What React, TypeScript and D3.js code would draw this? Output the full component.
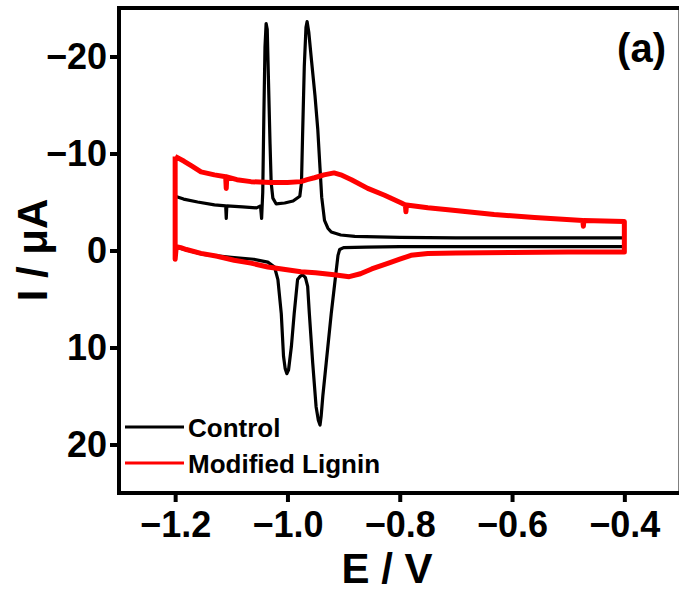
import { useEffect, useRef } from 'react';
import * as d3 from 'd3';

const xTicks = [-1.2, -1.0, -0.8, -0.6, -0.4];
const yTicks = [-20, -10, 0, 10, 20];

// [E (V), I (µA)]; scan -1.2 -> -0.4 then back
const controlForward: [number, number][] = [
  [-1.2, -5.6], [-1.185, -5.3], [-1.16, -5.0], [-1.13, -4.7], [-1.11, -4.6],
  [-1.109, -3.3], [-1.108, -4.6], [-1.08, -4.5], [-1.055, -4.4], [-1.048, -4.6],
  [-1.046, -3.3], [-1.044, -6.0], [-1.042, -14.0], [-1.04, -21.0], [-1.038, -23.4],
  [-1.036, -22.8], [-1.034, -18.0], [-1.031, -11.0], [-1.029, -7.0], [-1.026, -5.4],
  [-1.02, -4.8], [-1.005, -4.9], [-0.99, -5.1], [-0.978, -5.6], [-0.975, -7.0],
  [-0.973, -12.0], [-0.97, -19.0], [-0.967, -23.0], [-0.965, -23.6], [-0.962, -22.5],
  [-0.957, -19.5], [-0.951, -16.0], [-0.946, -12.5], [-0.942, -8.5], [-0.939, -5.5],
  [-0.934, -3.1], [-0.928, -2.3], [-0.922, -1.9], [-0.905, -1.6], [-0.88, -1.45],
  [-0.8, -1.35], [-0.7, -1.3], [-0.6, -1.3], [-0.5, -1.3], [-0.4, -1.3],
];

const controlReverse: [number, number][] = [
  [-0.4, -0.4], [-0.5, -0.4], [-0.6, -0.4], [-0.7, -0.4], [-0.8, -0.4],
  [-0.86, -0.35], [-0.9, -0.3], [-0.907, -0.1], [-0.91, 0.5], [-0.913, 2.0],
  [-0.917, 4.0], [-0.922, 6.5], [-0.931, 11.6], [-0.937, 15.0], [-0.94, 17.1],
  [-0.942, 18.0], [-0.945, 17.5], [-0.949, 16.1], [-0.955, 11.6], [-0.961, 6.5],
  [-0.964, 3.7], [-0.968, 2.8], [-0.973, 2.5], [-0.978, 2.7], [-0.982, 3.0],
  [-0.988, 6.5], [-0.993, 9.9], [-0.998, 12.3], [-1.001, 12.7], [-1.004, 12.2],
  [-1.007, 10.9], [-1.011, 6.5], [-1.017, 3.0], [-1.023, 1.7], [-1.035, 1.2],
  [-1.06, 0.9], [-1.1, 0.7], [-1.15, 0.4], [-1.19, -0.2], [-1.198, -0.3], [-1.2, 0.8],
];

const ligninForward: [number, number][] = [
  [-1.2, -9.7], [-1.184, -9.2], [-1.17, -8.7], [-1.154, -8.1], [-1.13, -7.8],
  [-1.11, -7.6], [-1.109, -6.4], [-1.108, -7.6], [-1.09, -7.3], [-1.065, -7.1],
  [-1.03, -7.0], [-1.0, -7.0], [-0.976, -7.1], [-0.965, -7.3], [-0.952, -7.5],
  [-0.935, -7.8], [-0.917, -8.0], [-0.905, -7.8], [-0.886, -7.3], [-0.857, -6.4],
  [-0.827, -5.7], [-0.797, -4.9], [-0.79, -4.7], [-0.789, -4.0], [-0.788, -4.7],
  [-0.75, -4.4], [-0.714, -4.2], [-0.632, -3.7], [-0.56, -3.4], [-0.474, -3.1],
  [-0.473, -2.5], [-0.472, -3.1], [-0.4, -3.0],
];

const ligninReverse: [number, number][] = [
  [-0.4, 0.15], [-0.5, 0.15], [-0.6, 0.2], [-0.7, 0.25], [-0.75, 0.3],
  [-0.78, 0.5], [-0.8, 0.9], [-0.82, 1.3], [-0.85, 1.9], [-0.87, 2.4],
  [-0.89, 2.7], [-0.917, 2.5], [-0.95, 2.3], [-0.976, 2.2], [-1.035, 1.7],
  [-1.065, 1.3], [-1.095, 1.0], [-1.125, 0.6], [-1.154, 0.3], [-1.18, -0.1],
  [-1.19, -0.3], [-1.198, -0.4], [-1.2, 0.9],
];

const seriesNames = ['Control', 'Modified Lignin'];
const seriesColors = ['#000000', '#ff0000'];

const W = 679;
const H = 591;
const FONT = '"Liberation Sans", Arial, Helvetica, sans-serif';

export default function App() {
  const svgRef = useRef<SVGSVGElement | null>(null);

  useEffect(() => {
    if (!svgRef.current) return;
    const svg = d3.select(svgRef.current);
    svg.selectAll('*').remove();

    const x = d3.scaleLinear().domain([-1.3, -0.3]).range([119, 680.5]);
    const y = d3.scaleLinear().domain([-25, 25]).range([8, 493]);

    const line = d3.line<[number, number]>()
      .x(d => x(d[0]))
      .y(d => y(d[1]));

    const loops = [
      [...controlForward, ...controlReverse, controlForward[0]],
      [...ligninForward, ...ligninReverse, ligninForward[0]],
    ];
    const widths = [3.2, 5];

    const plot = svg.append('g');
    loops.forEach((pts, i) => {
      plot.append('path')
        .datum(pts)
        .attr('d', line)
        .attr('fill', 'none')
        .attr('stroke', seriesColors[i])
        .attr('stroke-width', widths[i])
        .attr('stroke-linejoin', 'round');
    });

    // frame
    svg.append('rect')
      .attr('x', x(-1.3))
      .attr('y', y(-25))
      .attr('width', x(-0.3) - x(-1.3))
      .attr('height', y(25) - y(-25))
      .attr('fill', 'none')
      .attr('stroke', '#000')
      .attr('stroke-width', 4);

    // axes
    const xAxis = svg.append('g')
      .attr('transform', `translate(0,${y(25) + 2})`)
      .call(d3.axisBottom(x).tickValues(xTicks).tickFormat(d3.format('.1f')).tickSize(7).tickPadding(9));
    const yAxis = svg.append('g')
      .attr('transform', `translate(${x(-1.3) - 2},0)`)
      .call(d3.axisLeft(y).tickValues(yTicks).tickFormat(d3.format('d')).tickSize(7).tickPadding(3));

    [xAxis, yAxis].forEach(ax => {
      ax.select('.domain').remove();
      ax.selectAll('.tick line').attr('stroke', '#000').attr('stroke-width', 4);
      ax.selectAll('.tick text')
        .attr('fill', '#000')
        .style('font-family', FONT)
        .style('font-weight', 'bold')
        .style('font-size', '36px');
    });

    // axis titles
    svg.append('text')
      .attr('x', 387)
      .attr('y', 583)
      .attr('text-anchor', 'middle')
      .style('font-family', FONT)
      .style('font-weight', 'bold')
      .style('font-size', '42px')
      .text('E / V');

    svg.append('text')
      .attr('transform', 'translate(47,250) rotate(-90)')
      .attr('text-anchor', 'middle')
      .style('font-family', FONT)
      .style('font-weight', 'bold')
      .style('font-size', '42px')
      .text('I / μA');

    // panel label
    svg.append('text')
      .attr('x', 666)
      .attr('y', 62)
      .attr('text-anchor', 'end')
      .style('font-family', FONT)
      .style('font-weight', 'bold')
      .style('font-size', '40px')
      .text('(a)');

    // legend
    const legend = svg.append('g');
    seriesNames.forEach((name, i) => {
      const ly = 427 + i * 36;
      legend.append('line')
        .attr('x1', 125).attr('x2', 184)
        .attr('y1', ly).attr('y2', ly)
        .attr('stroke', seriesColors[i])
        .attr('stroke-width', 3);
      legend.append('text')
        .attr('x', 188)
        .attr('y', ly + 10)
        .style('font-family', FONT)
        .style('font-weight', 'bold')
        .style('font-size', '26px')
        .text(name);
    });
  }, []);

  return (
    <div>
      <style>{'body{margin:0}'}</style>
      <svg ref={svgRef} width={W} height={H} style={{ display: 'block', background: '#fff' }} />
    </div>
  );
}
